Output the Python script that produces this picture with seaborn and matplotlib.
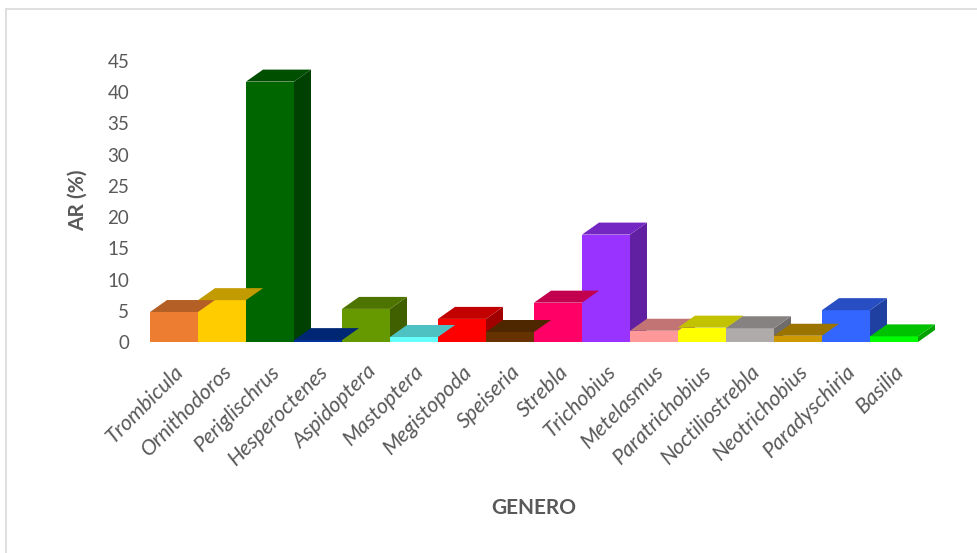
import numpy as np
import pandas as pd
import matplotlib
matplotlib.use("Agg")
import matplotlib.pyplot as plt
import matplotlib.colors as mcolors
from matplotlib.patches import Polygon, Rectangle
from matplotlib.transforms import ScaledTranslation
import seaborn as sns

# Genera of ectoparasites and their relative abundance (AR, %)
generos = [
    "Trombicula", "Ornithodoros", "Periglischrus", "Hesperoctenes",
    "Aspidoptera", "Mastoptera", "Megistopoda", "Speiseria", "Strebla",
    "Trichobius", "Metelasmus", "Paratrichobius", "Noctiliostrebla",
    "Neotrichobius", "Paradyschiria", "Basilia",
]
ar_pct = [4.8, 6.7, 41.7, 0.3, 5.3, 0.8, 3.7, 1.6, 6.3, 17.2,
          1.8, 2.3, 2.2, 1.0, 5.1, 0.9]
colores = [
    "#ED7D31", "#FFCC00", "#006600", "#003399", "#669900", "#66FFFF",
    "#FF0000", "#663300", "#FF0066", "#9933FF", "#FF9999", "#FFFF00",
    "#B0ABAB", "#CC9900", "#3366FF", "#00FF00",
]
y_ticks = list(range(0, 50, 5))

df = pd.DataFrame({"genero": generos, "ar": ar_pct})

sns.set_theme(style="white")
plt.rcParams["font.family"] = ["Lato", "DejaVu Sans"]
GREY = "#595959"

W, H = 977, 553
fig = plt.figure(figsize=(W / 100, H / 100), dpi=100)

# axes placed in pixel terms: 48 px per category, 0..45 over 281 px
ax_left, ax_bottom_px, ax_w, ax_h = 150, 342, 785, 281
ax = fig.add_axes([ax_left / W, 1 - ax_bottom_px / H, ax_w / W, ax_h / H])

sns.barplot(data=df, x="genero", y="ar", hue="genero", palette=colores,
            width=1.0, legend=False, ax=ax, saturation=1, linewidth=0)

depth_px_x, depth_px_y = 17, 12
ax.set_xlim(-0.5, len(generos) - 0.5 + depth_px_x / 48)
ax.set_ylim(0, 45)
ax.set_yticks(y_ticks)

# pseudo-3D: top and right faces derived from each front rectangle
dx = depth_px_x / 48.0
dy = depth_px_y / (ax_h / 45.0)


def shade(c, f):
    r, g, b = mcolors.to_rgb(c)
    return (r * f, g * f, b * f)


for bar, col in zip(ax.patches, colores):
    x0 = bar.get_x()
    x1 = x0 + bar.get_width()
    h = bar.get_height()
    top = Polygon([(x0, h), (x1, h), (x1 + dx, h + dy), (x0 + dx, h + dy)],
                  closed=True, facecolor=shade(col, 0.76), edgecolor="none",
                  clip_on=False, zorder=bar.get_zorder())
    side = Polygon([(x1, 0), (x1 + dx, dy), (x1 + dx, h + dy), (x1, h)],
                   closed=True, facecolor=shade(col, 0.63), edgecolor="none",
                   clip_on=False, zorder=bar.get_zorder() - 0.1)
    ax.add_patch(side)
    ax.add_patch(top)

for s in ax.spines.values():
    s.set_visible(False)
ax.tick_params(axis="both", length=0)
ax.tick_params(axis="y", pad=15, labelsize=13.5, labelcolor=GREY)
ax.tick_params(axis="x", pad=14, labelsize=15.5, labelcolor=GREY)
shift = ScaledTranslation(0.0, 0.0, fig.dpi_scale_trans)
for lbl in ax.get_xticklabels():
    lbl.set_rotation(45)
    lbl.set_ha("right")
    lbl.set_rotation_mode("anchor")
    lbl.set_style("italic")
    lbl.set_transform(lbl.get_transform() + shift)

ax.set_xlabel("GENERO", fontsize=15, fontweight="bold", color=GREY, va="center")
ax.xaxis.set_label_coords((534 - ax_left) / ax_w, (ax_bottom_px - 508) / ax_h)
ax.set_ylabel("AR (%)", fontsize=15, fontweight="bold", color=GREY, va="center")
ax.yaxis.set_label_coords((78 - ax_left) / ax_w, (ax_bottom_px - 200) / ax_h)

# chart frame
fig.patches.append(Rectangle((6 / W, -0.1), 1.2, 1.1 - 9 / H,
                             transform=fig.transFigure, fill=False,
                             edgecolor="#D9D9D9", linewidth=1.2))

fig.savefig("out.png", dpi=100, facecolor="white")
